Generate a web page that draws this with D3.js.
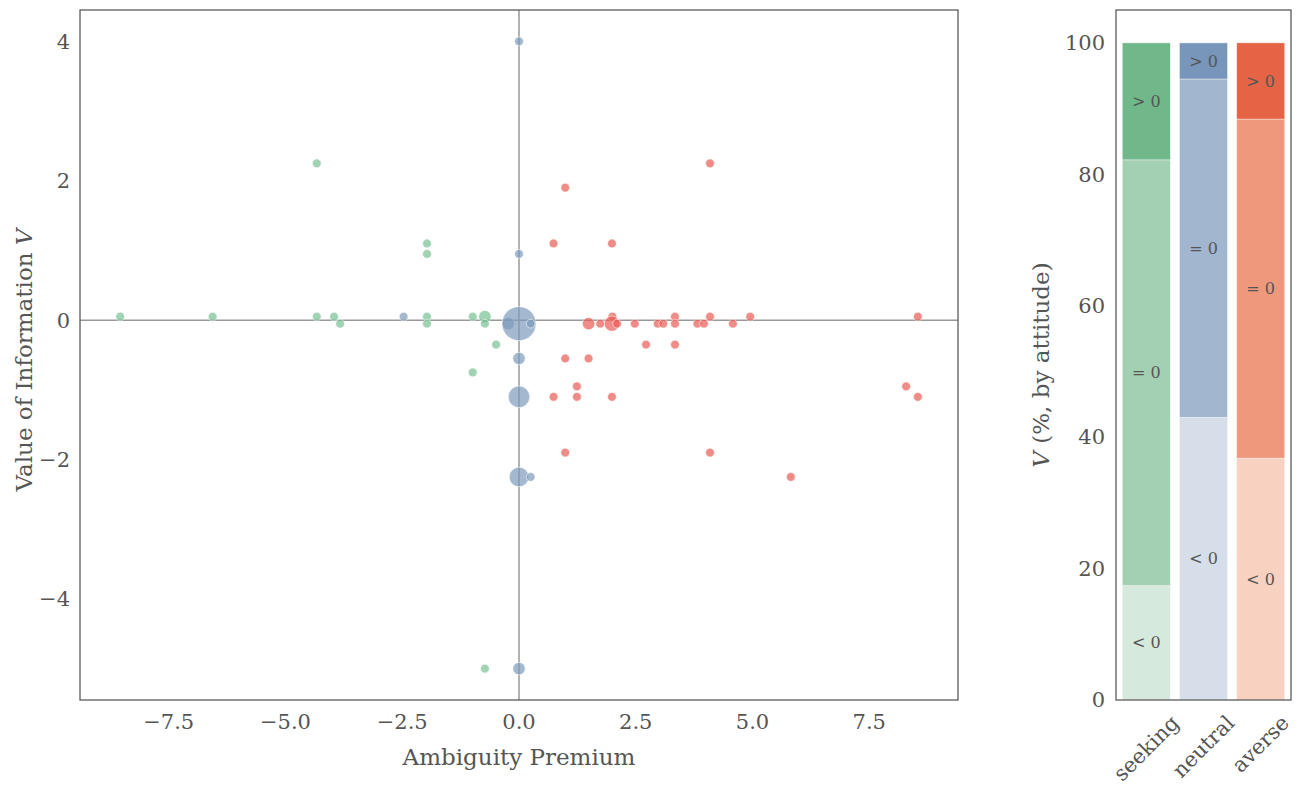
<!DOCTYPE html>
<html>
<head>
<meta charset="utf-8">
<script src="https://cdn.jsdelivr.net/npm/d3@7"></script>
<style>
  body { margin: 0; background: #fff; }
  text { font-family: "DejaVu Serif", serif; }
</style>
</head>
<body>
<svg id="chart" width="1304" height="788"></svg>
<script>
// scatter points: [ambiguity premium, value of information, count]
const seeking = [
  [-8.54, 0.05, 1], [-6.56, 0.05, 1], [-4.33, 0.05, 1], [-4.33, 2.25, 1],
  [-3.96, 0.05, 1], [-3.83, -0.05, 1], [-1.97, 0.05, 1], [-1.97, -0.05, 1],
  [-1.97, 1.1, 1], [-1.97, 0.95, 1], [-0.99, 0.05, 1], [-0.99, -0.75, 1],
  [-0.73, 0.05, 2], [-0.73, -0.05, 1], [-0.49, -0.35, 1], [-0.73, -5, 1]
];
const neutral = [
  [-2.47, 0.05, 1], [-0.23, -0.05, 2], [0, -0.05, 15], [0.25, -0.05, 1],
  [0, 4, 1], [0, 0.95, 1], [0, -0.55, 2], [0, -1.1, 6], [0, -2.25, 5],
  [0.25, -2.25, 1], [0, -5, 2]
];
const averse = [
  [2.0, 0.05, 1], [3.34, 0.05, 1], [4.09, 0.05, 1], [4.95, 0.05, 1], [8.54, 0.05, 1],
  [1.49, -0.05, 2], [1.74, -0.05, 1], [1.99, -0.05, 3], [2.10, -0.05, 1],
  [2.48, -0.05, 1], [2.97, -0.05, 1], [3.09, -0.05, 1], [3.34, -0.05, 1],
  [3.82, -0.05, 1], [3.96, -0.05, 1], [4.58, -0.05, 1],
  [4.09, 2.25, 1], [0.99, 1.9, 1], [0.74, 1.1, 1], [1.99, 1.1, 1],
  [2.72, -0.35, 1], [3.34, -0.35, 1], [0.99, -0.55, 1], [1.49, -0.55, 1],
  [1.24, -0.95, 1], [8.29, -0.95, 1], [0.74, -1.1, 1], [1.24, -1.1, 1],
  [1.99, -1.1, 1], [8.54, -1.1, 1], [0.99, -1.9, 1], [4.09, -1.9, 1], [5.82, -2.25, 1]
];

const xTicks = [-7.5, -5, -2.5, 0, 2.5, 5, 7.5];
const yTicks = [-4, -2, 0, 2, 4];

// stacked shares (%) of V sign by attitude
const attitudes = ['seeking', 'neutral', 'averse'];
const signs = ['< 0', '= 0', '> 0'];
const shareNeg = [17.4, 43.0, 36.8];
const shareZero = [64.8, 51.5, 51.6];
const sharePos = [17.8, 5.5, 11.6];
const barTicks = [0, 20, 40, 60, 80, 100];

const pointColor = { seeking: '#77bf94', neutral: '#7e9bbc', averse: '#ea5b54' };
const barColors = {
  seeking: ['#d6e9dd', '#a3cfb2', '#70b78a'],
  neutral: ['#d6dee9', '#a2b6d0', '#7896b9'],
  averse: ['#f9d1c1', '#ef987c', '#e56446']
};

const svg = d3.select('#chart');
const tickColor = '#555';
const frameColor = '#555';

// ---------- scatter ----------
const sc = { left: 80, right: 958, top: 10, bottom: 700 };
const x = d3.scaleLinear().domain([-9.4, 9.4]).range([sc.left, sc.right]);
const y = d3.scaleLinear().domain([-5.45, 4.45]).range([sc.bottom, sc.top]);
const r = d3.scaleSqrt().domain([0, 15]).range([0, 17]);

const gS = svg.append('g');

gS.append('line')
  .attr('x1', x(0)).attr('x2', x(0))
  .attr('y1', sc.top).attr('y2', sc.bottom)
  .attr('stroke', '#999').attr('stroke-width', 1.5);
gS.append('line')
  .attr('x1', sc.left).attr('x2', sc.right)
  .attr('y1', y(0)).attr('y2', y(0))
  .attr('stroke', '#999').attr('stroke-width', 1.5);

const allPoints = []
  .concat(seeking.map(d => ({ x: d[0], y: d[1], n: d[2], g: 'seeking' })))
  .concat(neutral.map(d => ({ x: d[0], y: d[1], n: d[2], g: 'neutral' })))
  .concat(averse.map(d => ({ x: d[0], y: d[1], n: d[2], g: 'averse' })));

gS.selectAll('circle.pt')
  .data(allPoints)
  .join('circle')
  .attr('class', 'pt')
  .attr('cx', d => x(d.x))
  .attr('cy', d => y(d.y))
  .attr('r', d => r(d.n))
  .attr('fill', d => pointColor[d.g])
  .attr('fill-opacity', 0.7)
  .attr('stroke', '#fff')
  .attr('stroke-opacity', 0.7)
  .attr('stroke-width', 0.8);

gS.append('rect')
  .attr('x', sc.left).attr('y', sc.top)
  .attr('width', sc.right - sc.left).attr('height', sc.bottom - sc.top)
  .attr('fill', 'none').attr('stroke', frameColor).attr('stroke-width', 1.25);

const fmtX = d => (d < 0 ? '\u2212' : '') + Math.abs(d).toFixed(1);
const fmtY = d => (d < 0 ? '\u2212' : '') + Math.abs(d);

gS.selectAll('text.xt')
  .data(xTicks)
  .join('text')
  .attr('class', 'xt')
  .attr('x', d => x(d))
  .attr('y', 729)
  .attr('text-anchor', 'middle')
  .attr('font-size', 21)
  .attr('fill', tickColor)
  .text(fmtX);

gS.selectAll('text.yt')
  .data(yTicks)
  .join('text')
  .attr('class', 'yt')
  .attr('x', 70)
  .attr('y', d => y(d))
  .attr('dy', '0.35em')
  .attr('text-anchor', 'end')
  .attr('font-size', 21)
  .attr('fill', tickColor)
  .text(fmtY);

gS.append('text')
  .attr('x', x(0))
  .attr('y', 765)
  .attr('text-anchor', 'middle')
  .attr('font-size', 23)
  .attr('fill', tickColor)
  .text('Ambiguity Premium');

const yl = gS.append('text')
  .attr('transform', `translate(32,${(sc.top + sc.bottom) / 2 + 5}) rotate(-90)`)
  .attr('text-anchor', 'middle')
  .attr('font-size', 23)
  .attr('fill', tickColor);
yl.append('tspan').text('Value of Information ');
yl.append('tspan').attr('font-style', 'italic').text('V');

// ---------- stacked bars ----------
const bc = { left: 1116, right: 1291, top: 10, bottom: 700 };
const bx = d3.scaleBand().domain(attitudes).range([bc.left, bc.right])
  .paddingInner(0.16).paddingOuter(0.11);
const by = d3.scaleLinear().domain([0, 105]).range([bc.bottom, bc.top]);

const stackRows = attitudes.map((a, i) => ({
  attitude: a, '< 0': shareNeg[i], '= 0': shareZero[i], '> 0': sharePos[i]
}));
const series = d3.stack().keys(signs)(stackRows);

const gB = svg.append('g');
series.forEach((s, si) => {
  gB.selectAll(null)
    .data(s)
    .join('rect')
    .attr('x', d => bx(d.data.attitude))
    .attr('width', bx.bandwidth())
    .attr('y', d => by(d[1]))
    .attr('height', d => by(d[0]) - by(d[1]))
    .attr('fill', d => barColors[d.data.attitude][si])
    .attr('stroke', '#fff')
    .attr('stroke-opacity', 0.5)
    .attr('stroke-width', 0.8);
  gB.selectAll(null)
    .data(s)
    .join('text')
    .attr('x', d => bx(d.data.attitude) + bx.bandwidth() / 2)
    .attr('y', d => by((d[0] + d[1]) / 2))
    .attr('dy', '0.35em')
    .attr('text-anchor', 'middle')
    .attr('font-size', 16)
    .attr('fill', '#555')
    .text(signs[si]);
});

gB.append('rect')
  .attr('x', bc.left).attr('y', bc.top)
  .attr('width', bc.right - bc.left).attr('height', bc.bottom - bc.top)
  .attr('fill', 'none').attr('stroke', frameColor).attr('stroke-width', 1.25);

gB.selectAll('text.byt')
  .data(barTicks)
  .join('text')
  .attr('class', 'byt')
  .attr('x', 1105)
  .attr('y', d => by(d))
  .attr('dy', '0.35em')
  .attr('text-anchor', 'end')
  .attr('font-size', 21)
  .attr('fill', tickColor)
  .text(d => d);

const bxl = gB.selectAll('text.bxt')
  .data(attitudes)
  .join('text')
  .attr('class', 'bxt')
  .attr('text-anchor', 'middle')
  .attr('dominant-baseline', 'central')
  .attr('font-size', 21)
  .attr('fill', tickColor)
  .text(d => d);
bxl.attr('transform', function(d) {
  const L = this.getComputedTextLength();
  const h = 18;
  const half = (L + h) * Math.SQRT1_2 / 2;
  return `translate(${bx(d) + bx.bandwidth() / 2},${713 + half}) rotate(-45)`;
});

const byl = gB.append('text')
  .attr('transform', `translate(1049,${(bc.top + bc.bottom) / 2 + 10}) rotate(-90)`)
  .attr('text-anchor', 'middle')
  .attr('font-size', 23)
  .attr('fill', tickColor);
byl.append('tspan').attr('font-style', 'italic').text('V');
byl.append('tspan').text(' (%, by attitude)');
</script>
</body>
</html>
